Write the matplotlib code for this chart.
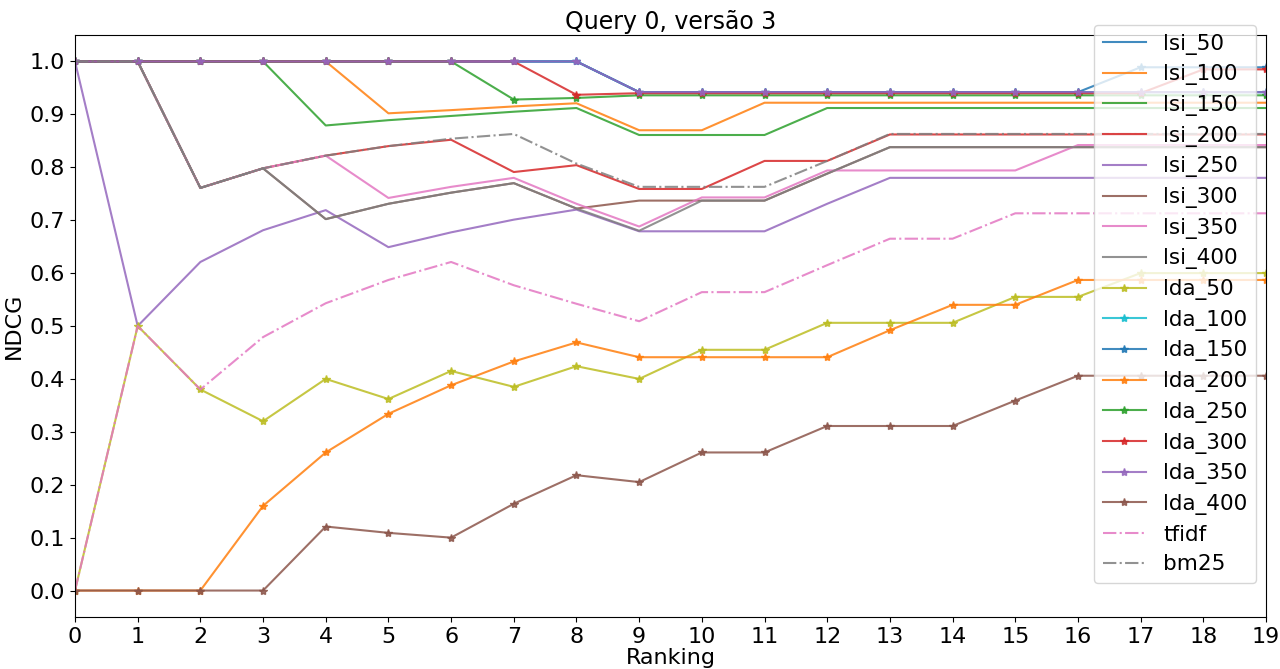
import matplotlib
matplotlib.use('Agg')
import matplotlib.pyplot as plt
import numpy as np

ranking = list(range(20))

lsi_50 = [1, 1, 1, 1, 1, 1, 1, 1, 1, 0.942, 0.942, 0.942, 0.942, 0.942, 0.942, 0.942, 0.942, 0.942, 0.942, 0.942]
lsi_100 = [1, 1, 1, 1, 1, 0.902, 0.908, 0.915, 0.921, 0.870, 0.870, 0.922, 0.922, 0.922, 0.922, 0.922, 0.922, 0.922, 0.922, 0.922]
lsi_150 = [1, 1, 1, 1, 0.879, 0.889, 0.897, 0.905, 0.912, 0.861, 0.861, 0.861, 0.912, 0.912, 0.912, 0.912, 0.912, 0.912, 0.912, 0.912]
lsi_200 = [1, 1, 0.761, 0.798, 0.822, 0.840, 0.852, 0.791, 0.804, 0.759, 0.759, 0.812, 0.812, 0.862, 0.862, 0.862, 0.862, 0.862, 0.862, 0.862]
lsi_250 = [1, 0.5, 0.621, 0.681, 0.719, 0.649, 0.677, 0.701, 0.720, 0.679, 0.679, 0.679, 0.731, 0.780, 0.780, 0.780, 0.780, 0.780, 0.780, 0.780]
lsi_300 = [1, 1, 0.761, 0.798, 0.702, 0.731, 0.752, 0.770, 0.722, 0.737, 0.737, 0.737, 0.788, 0.838, 0.838, 0.838, 0.838, 0.838, 0.838, 0.838]
lsi_350 = [1, 1, 0.761, 0.798, 0.822, 0.742, 0.763, 0.780, 0.731, 0.688, 0.743, 0.743, 0.794, 0.794, 0.794, 0.794, 0.842, 0.842, 0.842, 0.842]
lsi_400 = [1, 1, 0.761, 0.798, 0.702, 0.731, 0.752, 0.770, 0.722, 0.680, 0.737, 0.737, 0.788, 0.838, 0.838, 0.838, 0.838, 0.838, 0.838, 0.838]

lda_50 = [0, 0.5, 0.380, 0.320, 0.400, 0.362, 0.415, 0.385, 0.424, 0.400, 0.455, 0.455, 0.506, 0.506, 0.506, 0.555, 0.555, 0.600, 0.600, 0.600]
lda_100 = [1, 1, 1, 1, 1, 1, 1, 1, 1, 0.942, 0.942, 0.942, 0.942, 0.942, 0.942, 0.942, 0.942, 0.942, 0.942, 0.942]
lda_150 = [1, 1, 1, 1, 1, 1, 1, 1, 1, 0.942, 0.942, 0.942, 0.942, 0.942, 0.942, 0.942, 0.942, 0.989, 0.989, 0.989]
lda_200 = [0, 0, 0, 0.160, 0.261, 0.334, 0.388, 0.433, 0.469, 0.441, 0.441, 0.441, 0.441, 0.492, 0.540, 0.540, 0.587, 0.587, 0.587, 0.587]
lda_250 = [1, 1, 1, 1, 1, 1, 1, 0.928, 0.931, 0.936, 0.936, 0.936, 0.936, 0.936, 0.936, 0.936, 0.936, 0.936, 0.936, 0.936]
lda_300 = [1, 1, 1, 1, 1, 1, 1, 1, 0.937, 0.940, 0.940, 0.940, 0.940, 0.940, 0.940, 0.940, 0.940, 0.940, 0.985, 0.985]
lda_350 = [1, 1, 1, 1, 1, 1, 1, 1, 1, 0.942, 0.942, 0.942, 0.942, 0.942, 0.942, 0.942, 0.942, 0.942, 0.942, 0.942]
lda_400 = [0, 0, 0, 0, 0.121, 0.109, 0.100, 0.164, 0.218, 0.205, 0.261, 0.261, 0.311, 0.311, 0.311, 0.359, 0.406, 0.406, 0.406, 0.406]

tfidf = [0, 0.5, 0.380, 0.479, 0.543, 0.587, 0.621, 0.577, 0.542, 0.509, 0.564, 0.564, 0.615, 0.665, 0.665, 0.713, 0.713, 0.713, 0.713, 0.713]
bm25 = [1, 1, 0.761, 0.798, 0.822, 0.840, 0.854, 0.863, 0.807, 0.763, 0.763, 0.763, 0.812, 0.863, 0.863, 0.863, 0.863, 0.863, 0.863, 0.863]

lsi = {'lsi_50': lsi_50, 'lsi_100': lsi_100, 'lsi_150': lsi_150, 'lsi_200': lsi_200,
       'lsi_250': lsi_250, 'lsi_300': lsi_300, 'lsi_350': lsi_350, 'lsi_400': lsi_400}
lda = {'lda_50': lda_50, 'lda_100': lda_100, 'lda_150': lda_150, 'lda_200': lda_200,
       'lda_250': lda_250, 'lda_300': lda_300, 'lda_350': lda_350, 'lda_400': lda_400}

plt.rcParams['font.size'] = 16
fig = plt.figure(figsize=(12.8, 6.69), dpi=100)
ax = fig.add_axes([75 / 1280, 1 - 617 / 669, (1266 - 75) / 1280, (617 - 35) / 669])

for name, vals in lsi.items():
    ax.plot(ranking, vals, label=name, alpha=0.85, lw=1.5)
for name, vals in lda.items():
    ax.plot(ranking, vals, label=name, marker='*', markersize=6, alpha=0.85, lw=1.5)
ax.plot(ranking, tfidf, '-.', label='tfidf', alpha=0.85, lw=1.5)
ax.plot(ranking, bm25, '-.', label='bm25', alpha=0.85, lw=1.5)

ax.set_xlim(0, 19)
ax.set_ylim(-0.05, 1.05)
ax.set_xticks(ranking)
ax.set_yticks(np.arange(0, 1.01, 0.1))
ax.set_xlabel('Ranking', labelpad=1)
ax.set_ylabel('NDCG')
ax.set_title('Query 0, versão 3', fontsize=17, pad=4)
ax.legend(loc='upper right', bbox_to_anchor=(1256 / 1280, 1 - 25 / 669),
          bbox_transform=fig.transFigure, borderaxespad=0, fontsize=15.5,
          labelspacing=0.45)

fig.savefig('out.png', dpi=100)
